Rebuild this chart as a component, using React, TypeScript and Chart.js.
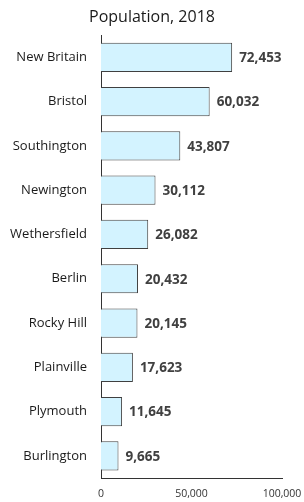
import React, { useEffect, useRef } from "react";
import { Chart, registerables } from "chart.js";

Chart.register(...registerables);

const towns = [
  "New Britain",
  "Bristol",
  "Southington",
  "Newington",
  "Wethersfield",
  "Berlin",
  "Rocky Hill",
  "Plainville",
  "Plymouth",
  "Burlington",
];
const population = [72453, 60032, 43807, 30112, 26082, 20432, 20145, 17623, 11645, 9665];
const xTicks = [0, 50000, 100000];
const titleText = "Population, 2018";

const FONT = "'Open Sans', 'Noto Sans', sans-serif";

const valueLabels = {
  id: "valueLabels",
  afterDatasetsDraw(chart: any) {
    const ctx = chart.ctx;
    const meta = chart.getDatasetMeta(0);
    ctx.save();
    ctx.font = `bold 13.5px ${FONT}`;
    ctx.fillStyle = "#404040";
    ctx.textAlign = "left";
    ctx.textBaseline = "middle";
    meta.data.forEach((bar: any, i: number) => {
      const v = chart.data.datasets[0].data[i] as number;
      ctx.fillText(v.toLocaleString("en-US"), bar.x + 7, bar.y + 1);
    });
    ctx.restore();
  },
};

export default function App() {
  const ref = useRef<HTMLCanvasElement | null>(null);
  useEffect(() => {
    document.body.style.margin = "0";
    if (!ref.current) return;
    const chart = new Chart(ref.current, {
      type: "bar",
      data: {
        labels: towns,
        datasets: [
          {
            data: population,
            backgroundColor: "#D3F3FF",
            borderColor: "#404040",
            borderWidth: 1,
            barPercentage: 0.66,
            categoryPercentage: 1,
          },
        ],
      },
      options: {
        indexAxis: "y",
        animation: false,
        responsive: false,
        maintainAspectRatio: false,
        layout: { padding: 0 },
        plugins: {
          legend: { display: false },
          tooltip: { enabled: false },
          title: {
            display: true,
            text: titleText,
            color: "#1a1a1a",
            font: { family: FONT, size: 16, weight: "normal" },
            padding: { top: 8, bottom: 8 },
          },
        },
        scales: {
          x: {
            min: 0,
            max: 100000,
            afterBuildTicks(scale: any) {
              scale.ticks = xTicks.map((v) => ({ value: v }));
            },
            afterFit(scale: any) {
              scale.height = 24;
              scale.paddingLeft = 0;
              scale.paddingRight = 22;
            },
            grid: { display: false, drawTicks: false },
            border: { display: true, color: "#333333", width: 1 },
            ticks: {
              color: "#333333",
              font: { family: FONT, size: 10.5 },
              padding: 10,
              maxRotation: 0,
              callback: (v: any) => Number(v).toLocaleString("en-US"),
            },
          },
          y: {
            afterFit(scale: any) {
              scale.width = 101;
              scale.paddingTop = 0;
              scale.paddingBottom = 0;
            },
            grid: { display: false, drawTicks: false },
            border: { display: true, color: "#333333", width: 1 },
            ticks: {
              color: "#1a1a1a",
              font: { family: FONT, size: 13 },
              padding: 14,
            },
          },
        },
      },
      plugins: [valueLabels],
    });
    return () => chart.destroy();
  }, []);
  return (
    <div style={{ width: 304, height: 502 }}>
      <canvas ref={ref} width={304} height={502} style={{ width: 304, height: 502 }} />
    </div>
  );
}
